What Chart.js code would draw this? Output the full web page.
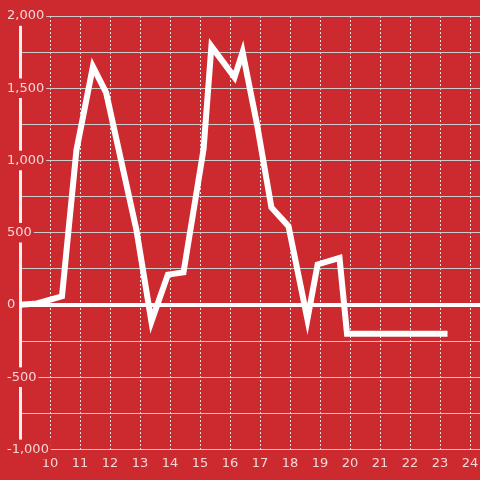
<!DOCTYPE html>
<html>
<head>
<meta charset="utf-8">
<script src="https://cdn.jsdelivr.net/npm/chart.js@4/dist/chart.umd.min.js"></script>
<style>
  html, body { margin: 0; padding: 0; background: #cd2a2f; }
  #wrap { width: 480px; height: 480px; }
</style>
</head>
<body>
<div id="wrap"><canvas id="grafik"></canvas></div>
<script>
// data
var jam   = [8.9, 9.57, 10.4, 10.88, 11.43, 11.87, 12.88, 13.38, 13.93, 14.45, 15.12, 15.38, 16.15, 16.42, 16.9, 17.38, 17.95, 18.58, 18.92, 19.65, 19.9, 23.25];
var nilai = [0, 10, 60, 1070, 1650, 1470, 520, -115, 210, 225, 1080, 1790, 1575, 1750, 1250, 675, 545, -100, 280, 325, -200, -200];
var yMin = -1000, yMax = 2000, yStep = 250;
var xMin = 9, xMax = 24.333;

var merah = '#cd2a2f';
var teks = '#f4d6d7';

var points = [];
for (var i = 0; i < jam.length; i++) {
    points.push({x: jam[i], y: nilai[i]});
}

var ctx = document.getElementById("grafik").getContext('2d');
var myChart = new Chart(ctx, {
    type: 'line',
    data: {
        datasets: [{
            data: points,
            borderColor: '#ffffff',
            borderWidth: 6,
            pointRadius: 0,
            fill: false,
            tension: 0
        }]
    },
    options: {
        responsive: true,
        maintainAspectRatio: false,
        animation: false,
        layout: { padding: { left: 20, top: 16, right: 0, bottom: 3 } },
        plugins: { legend: { display: false }, tooltip: { enabled: false } },
        scales: {
            x: {
                type: 'linear',
                min: xMin,
                max: xMax,
                afterBuildTicks: function(s) {
                    s.ticks = s.ticks.filter(function(t) { return t.value >= 10; });
                },
                afterFit: function(s) { s.paddingLeft = 0; s.paddingRight = 0; },
                ticks: {
                    stepSize: 1,
                    includeBounds: false,
                    autoSkip: false,
                    maxRotation: 0,
                    padding: 6,
                    color: teks,
                    font: { family: 'DejaVu Sans', size: 13 }
                },
                grid: { color: '#e2e2e2', lineWidth: 1, drawTicks: false },
                border: { display: false, dash: [2, 2] }
            },
            y: {
                min: yMin,
                max: yMax,
                afterFit: function(s) { s.width = 0; },
                ticks: {
                    stepSize: yStep,
                    mirror: true,
                    padding: -13,
                    color: teks,
                    font: { family: 'DejaVu Sans', size: 13 },
                    showLabelBackdrop: true,
                    backdropColor: merah,
                    backdropPadding: 2,
                    callback: function(v) {
                        return v % 500 === 0 ? v.toLocaleString('en-US') : '';
                    }
                },
                grid: {
                    drawTicks: false,
                    color: function(c) { return c.tick && c.tick.value === 0 ? '#ffffff' : '#cccccc'; },
                    lineWidth: function(c) { return c.tick && c.tick.value === 0 ? 4 : 1; }
                },
                border: { display: true, color: '#f5f0f0', width: 3 }
            }
        }
    }
});
</script>
</body>
</html>
